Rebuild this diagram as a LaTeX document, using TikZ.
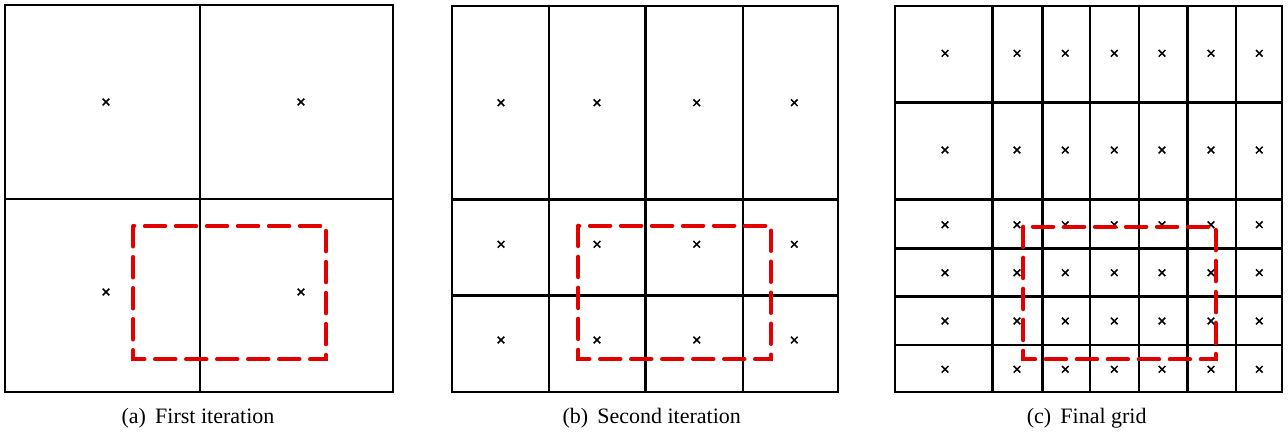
\documentclass[tikz,border=0pt]{standalone}
\usepackage{fontspec}
\setmainfont{Liberation Serif}
\definecolor{boxred}{RGB}{226,0,0}
\tikzset{
  gridline/.style={line width=2.8pt, black},
  frameline/.style={line width=2.8pt, black},
  region/.style={line width=4pt, boxred, line cap=round, dash pattern=on 20.5pt off 10.5pt},
  mark line/.style={line width=1.5pt, black},
  caption/.style={anchor=base, inner sep=0pt, font=\fontsize{22}{26}\selectfont},
}
% small cross marking a cell centre
\newcommand\cellmark[2]{\draw[mark line] (#1-3.3,#2-3.3) -- (#1+3.3,#2+3.3) (#1-3.3,#2+3.3) -- (#1+3.3,#2-3.3);}
\begin{document}
\begin{tikzpicture}[x=1pt,y=-1pt]
\useasboundingbox (0,0) rectangle (1288,432);

% ---------- (a) first iteration: 2 x 2 cells ----------
\draw[gridline] (200,5) -- (200,392);
\draw[gridline] (5,199) -- (393,199);
\draw[frameline] (5,5) rectangle (393,392);
\foreach \x in {106,301} \foreach \y in {102,292} {\cellmark{\x}{\y}}
\draw[region] (133.3,226) rectangle (326,359.3);
\node[caption] (capa) at (198,423) {(a)\, First iteration};

% ---------- (b) second iteration: 4 columns, 3 rows ----------
\foreach \x in {549,645.7,743} \draw[gridline] (\x,6) -- (\x,392);
\foreach \y in {199.3,295.7} \draw[gridline] (452,\y) -- (838,\y);
\draw[frameline] (452,6) rectangle (838,392);
\foreach \x in {501,597,696.7,794.3} \foreach \y in {102.7,244.3,340} {\cellmark{\x}{\y}}
\draw[region] (578.3,225.7) rectangle (771,359);
\node[caption] (capb) at (651.7,423) {(b)\, Second iteration};

% ---------- (c) final grid: 7 columns, 6 rows ----------
\foreach \x in {992.7,1042.3,1090,1139,1187.3,1236} \draw[gridline] (\x,6) -- (\x,392);
\foreach \y in {102.3,199.3,248.3,296.3,345} \draw[gridline] (895,\y) -- (1282,\y);
\draw[frameline] (895,6) rectangle (1282,392);
\foreach \x in {945,1017,1065.3,1114.3,1162,1211,1259.3}
  \foreach \y in {53.3,150,224.7,272.7,321,369.3} {\cellmark{\x}{\y}}
\draw[region] (1023.3,226.7) rectangle (1215.7,359.3);
\node[caption] (capc) at (1086.7,423) {(c)\, Final grid};
\end{tikzpicture}
\end{document}
